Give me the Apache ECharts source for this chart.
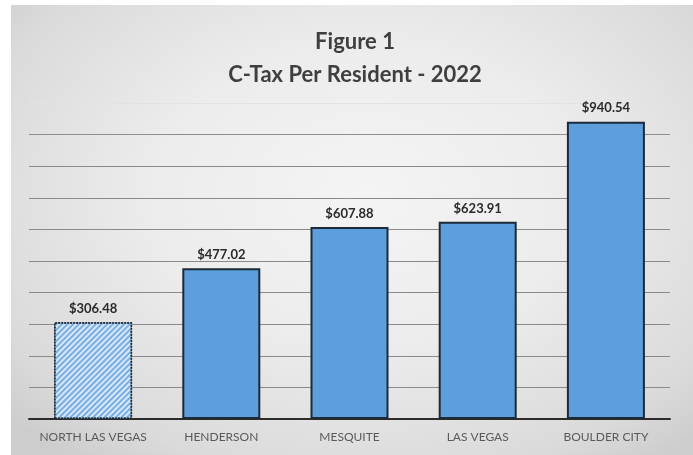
<!DOCTYPE html>
<html>
<head>
<meta charset="utf-8">
<script src="https://cdn.jsdelivr.net/npm/echarts@6/dist/echarts.min.js"></script>
<style>
  html, body { margin: 0; padding: 0; background: #fff; }
  #wrap { position: relative; width: 693px; height: 455px; }
  #panel {
    position: absolute; left: 11px; top: 5px; right: 0; bottom: 0;
    background: radial-gradient(ellipse 70% 75% at 52% 42%, #f4f4f4 0%, #ececec 45%, #dadada 85%, #cdcdcd 100%);
  }
  #chart { position: absolute; left: 0; top: 0; width: 693px; height: 455px; }
</style>
</head>
<body>
<div id="wrap">
  <div id="panel"></div>
  <div id="chart"></div>
</div>
<script>
// data
const cities = ['NORTH LAS VEGAS', 'HENDERSON', 'MESQUITE', 'LAS VEGAS', 'BOULDER CITY'];
const ctaxPerResident = [306.48, 477.02, 607.88, 623.91, 940.54];
const titleLines = ['Figure 1', 'C-Tax Per Resident - 2022'];

// 网格线颜色 (0 ... 1000)，最上面一条几乎看不见
const gridColors = ['#8a8a8a', '#8a8a8a', '#8a8a8a', '#8a8a8a', '#8a8a8a', '#8a8a8a',
  '#8a8a8a', '#8a8a8a', '#8a8a8a', '#8f8f8f', '#e2e2e2'];

const chart = echarts.init(document.getElementById('chart'));

const barData = ctaxPerResident.map((v, i) => {
  if (i === 0) {
    // 斜线填充
    return {
      value: v,
      itemStyle: {
        color: '#d9e8f8',
        borderColor: '#1d2a38',
        borderWidth: 1.5,
        borderType: [2, 1],
        decal: {
          symbol: 'rect',
          symbolSize: 1,
          dashArrayX: [1, 0],
          dashArrayY: [1.5, 1.5],
          rotation: -Math.PI / 4,
          color: '#78aee3'
        }
      }
    };
  }
  return v;
});

const option = {
  backgroundColor: 'transparent',
  animation: false,
  title: {
    text: titleLines.join('\n'),
    left: 350,
    textAlign: 'center',
    top: 20,
    textStyle: {
      fontFamily: 'Lato',
      fontWeight: 'bold',
      fontSize: 22,
      lineHeight: 33,
      color: '#3f3f3f'
    }
  },
  grid: { left: 29, right: 23, top: 103, bottom: 36 },
  xAxis: {
    type: 'category',
    data: cities,
    axisLine: { lineStyle: { color: '#2b2b2b', width: 2 } },
    axisTick: { show: false },
    axisLabel: {
      interval: 0,
      margin: 12,
      fontFamily: 'Lato',
      fontSize: 12,
      color: '#5a5a5a'
    }
  },
  yAxis: {
    type: 'value',
    min: 0,
    max: 1000,
    interval: 100,
    axisLine: { show: false },
    axisTick: { show: false },
    axisLabel: { show: false },
    splitLine: { lineStyle: { color: gridColors, width: 1 } }
  },
  series: [{
    type: 'bar',
    data: barData,
    barWidth: 78,
    itemStyle: {
      color: '#5d9fdc',
      borderColor: '#1d2a38',
      borderWidth: 2
    },
    label: {
      show: true,
      position: 'top',
      distance: 7,
      formatter: (p) => '$' + p.value.toFixed(2),
      fontFamily: 'Lato',
      fontWeight: 'bold',
      fontSize: 13,
      color: '#2a2a2a'
    }
  }]
};

chart.setOption(option);
</script>
</body>
</html>
